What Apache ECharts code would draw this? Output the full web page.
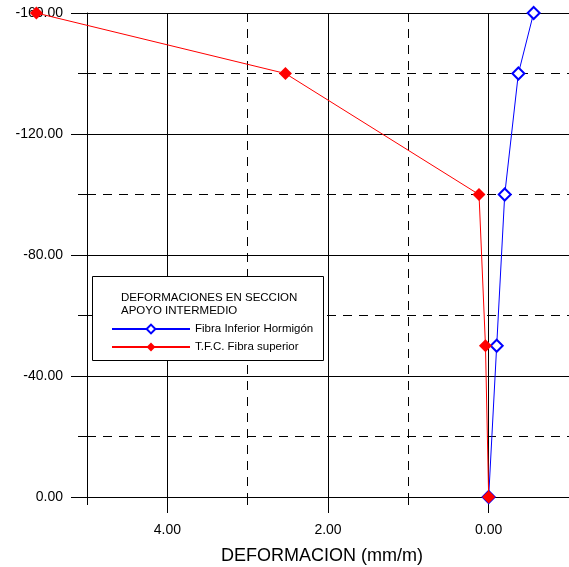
<!DOCTYPE html>
<html>
<head>
<meta charset="utf-8">
<script src="https://cdn.jsdelivr.net/npm/echarts@6/dist/echarts.min.js"></script>
<style>
  html, body { margin: 0; padding: 0; background: #fff; }
  #chart { width: 569px; height: 567px; }
</style>
</head>
<body>
<div id="chart"></div>
<script>
// Strain (mm/m) versus section depth, intermediate support
const seriesNames = ['Fibra Inferior Hormigón', 'T.F.C. Fibra superior'];
const depth = [0, -50, -100, -140, -160];
const strainInferior = [0, -0.1, -0.2, -0.37, -0.56];
const strainSuperior = [0, 0.04, 0.12, 2.53, 5.63];
const xMajorTicks = [0, 2, 4];
const legendHeading = ['DEFORMACIONES EN SECCION', 'APOYO INTERMEDIO'];
const xTitle = 'DEFORMACION (mm/m)';

const FONT = 'Liberation Sans, Arial, sans-serif';
const dashed = [9, 7];

// Plot frame: x from 5 (left) down to -1 (right), y from -160 (top) to 0 (bottom)
const W = 569, H = 567;
const plotLeft = 87, plotTop = 13, plotBottom = 70;
const xMin = -1, xMax = 5;
// A wider companion grid with the same scale lets the last point of the
// upper-fibre curve sit beyond x = 5 without being cut off.
const xMaxWide = 6;
const wideLeft = W - (W - plotLeft) * (xMaxWide - xMin) / (xMax - xMin);

const chart = echarts.init(document.getElementById('chart'));

const pairs = (xs, ys) => xs.map((x, i) => [x, ys[i]]);
const hiddenX = (grid, max) => ({
  type: 'value', gridIndex: grid, min: xMin, max: max, inverse: true, show: false
});
const hiddenY = grid => ({
  type: 'value', gridIndex: grid, min: -160, max: 0, inverse: true, show: false
});

chart.setOption({
  animation: false,
  backgroundColor: '#fff',
  grid: [
    { left: plotLeft, right: 0, top: plotTop, bottom: plotBottom, outerBoundsMode: 'none', containLabel: false },
    { left: wideLeft, right: 0, top: plotTop, bottom: plotBottom, outerBoundsMode: 'none', containLabel: false }
  ],
  xAxis: [
    {
      type: 'value', gridIndex: 0, position: 'bottom', min: xMin, max: xMax, interval: 1, inverse: true,
      axisLine: { show: true, onZero: false, lineStyle: { color: '#000', width: 1 } },
      axisTick: { show: true, length: 8, lineStyle: { color: '#000', type: dashed } },
      splitLine: { show: true, lineStyle: { color: '#000', type: dashed } },
      axisLabel: {
        margin: 26, color: '#000', fontFamily: FONT, fontSize: 14,
        formatter: v => (xMajorTicks.indexOf(v) >= 0 ? v.toFixed(2) : '')
      },
      name: xTitle, nameLocation: 'middle', nameGap: 50,
      nameTextStyle: { color: '#000', fontFamily: FONT, fontSize: 18, padding: [0, 12, 0, 0] }
    },
    {
      type: 'value', gridIndex: 0, position: 'top', min: xMin, max: xMax, inverse: true,
      axisLine: { show: true, onZero: false, lineStyle: { color: '#000', width: 1 } },
      axisTick: { show: true, inside: true, length: 500, customValues: xMajorTicks,
                  lineStyle: { color: '#000', width: 1 } },
      axisLabel: { show: false },
      splitLine: { show: false }
    },
    hiddenX(1, xMaxWide)
  ],
  yAxis: [
    {
      type: 'value', gridIndex: 0, position: 'left', min: -160, max: 0, interval: 20, inverse: true,
      axisLine: { show: true, onZero: false, lineStyle: { color: '#000', width: 1 } },
      axisTick: { show: true, length: 9, lineStyle: { color: '#000', type: dashed } },
      splitLine: { show: true, lineStyle: { color: '#000', type: dashed } },
      axisLabel: {
        margin: 24, color: '#000', fontFamily: FONT, fontSize: 14,
        formatter: v => (v % 40 === 0 ? v.toFixed(2) : '')
      }
    },
    {
      type: 'value', gridIndex: 0, position: 'right', min: -160, max: 0, interval: 40, inverse: true,
      axisLine: { show: false, onZero: false },
      axisTick: { show: true, inside: true, length: W - plotLeft + 16,
                  lineStyle: { color: '#000', width: 1 } },
      axisLabel: { show: false },
      splitLine: { show: false }
    },
    hiddenY(1)
  ],
  legend: {
    orient: 'vertical', left: 106, top: 318, itemWidth: 78, itemHeight: 11, itemGap: 6,
    z: 10,
    textStyle: { color: '#000', fontFamily: FONT, fontSize: 11.5 },
    data: seriesNames
  },
  graphic: [
    {
      type: 'rect', z: 8, left: 92, top: 276,
      shape: { width: 231, height: 84 },
      style: { fill: '#fff', stroke: '#000', lineWidth: 1 }
    },
    {
      type: 'text', z: 9, left: 121, top: 291,
      style: { text: legendHeading.join('\n'), fill: '#000', font: '11.5px ' + FONT, lineHeight: 13 }
    }
  ],
  series: [
    {
      name: seriesNames[0], type: 'line', xAxisIndex: 0, yAxisIndex: 0,
      data: pairs(strainInferior, depth), clip: false,
      symbol: 'emptyDiamond', symbolSize: 12, z: 3,
      lineStyle: { color: '#0000ff', width: 1 },
      itemStyle: { color: '#0000ff', borderWidth: 2 }
    },
    {
      name: seriesNames[1], type: 'line', xAxisIndex: 2, yAxisIndex: 2,
      data: pairs(strainSuperior, depth), clip: false,
      symbol: 'diamond', symbolSize: 13, z: 4,
      lineStyle: { color: '#ff0000', width: 1 },
      itemStyle: { color: '#ff0000' }
    }
  ]
});
</script>
</body>
</html>
